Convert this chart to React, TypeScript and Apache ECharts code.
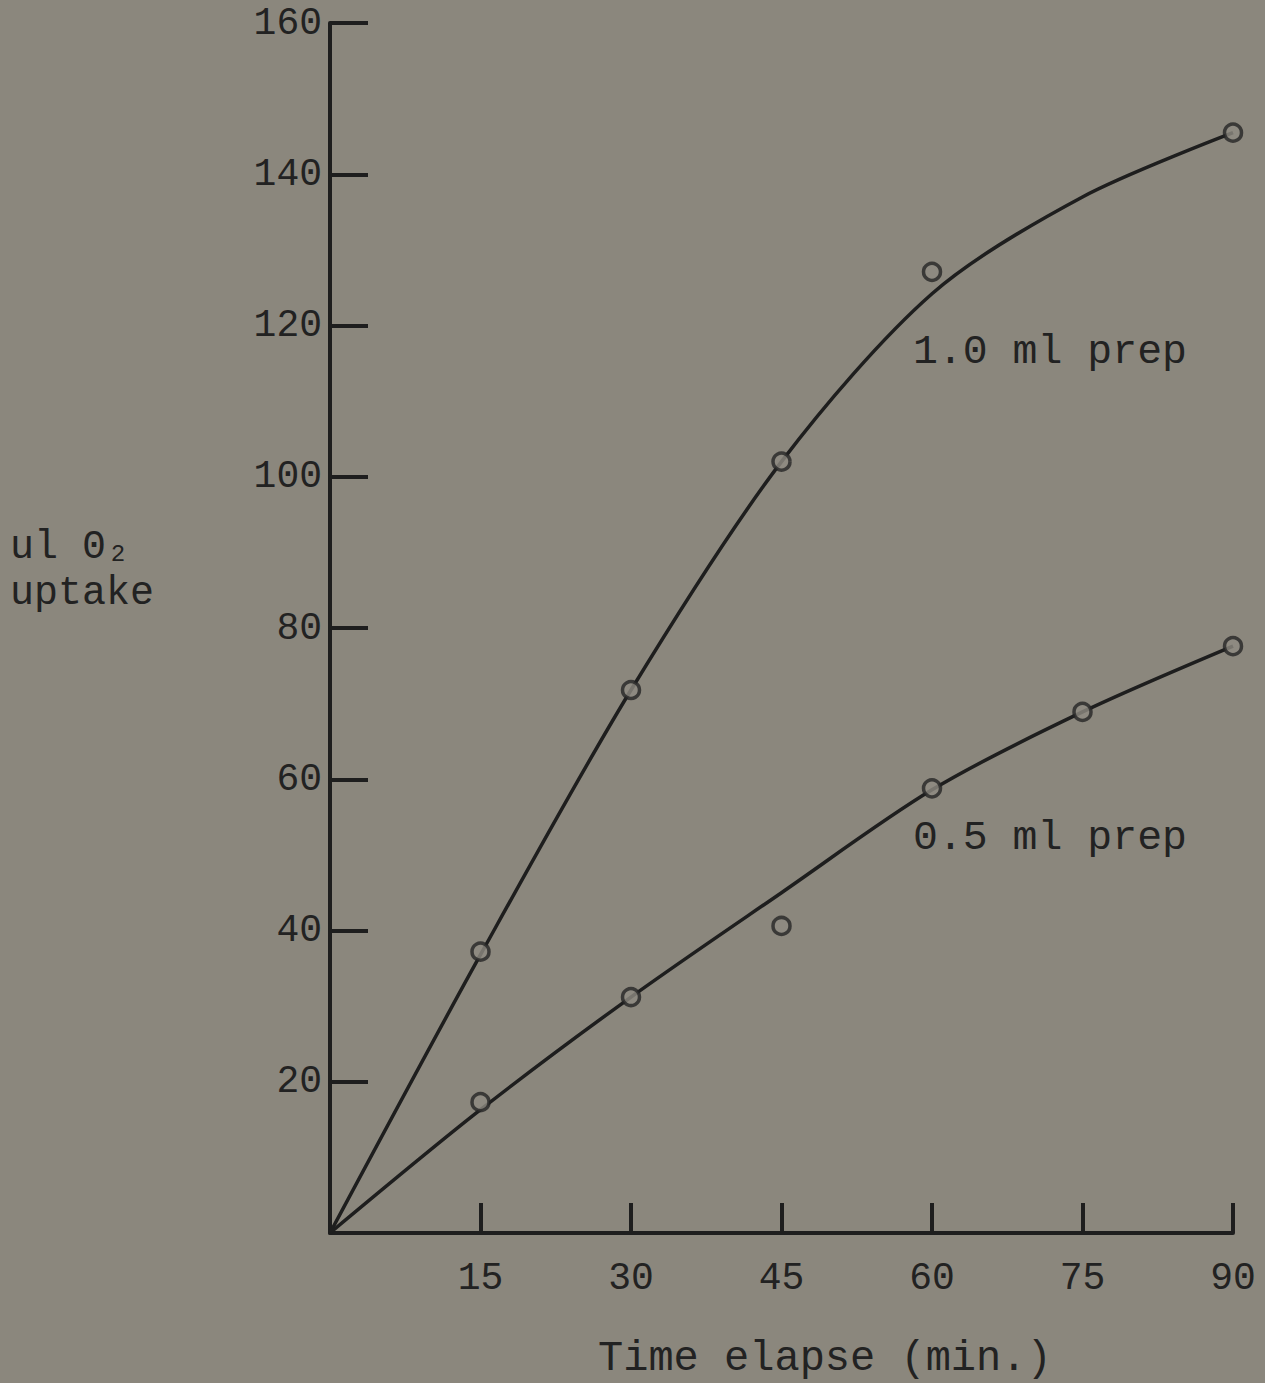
import React, { useEffect, useRef } from "react";
import * as echarts from "echarts";

// Measured data points (x = minutes, y = ul O2 uptake)
const prep10Points: [number, number][] = [
  [0, 0], [15, 37.2], [30, 71.8], [45, 102.0], [60, 127.1], [90, 145.5],
];
const prep05Points: [number, number][] = [
  [0, 0], [15, 17.3], [30, 31.2], [45, 40.6], [60, 58.8], [75, 68.9], [90, 77.6],
];
// Hand-drawn fitted curves
const prep10Curve: [number, number][] = [
  [0, 0], [15, 36.8], [30, 71.8], [45, 102.0], [60, 124.2], [75, 137.0], [90, 145.5],
];
const prep05Curve: [number, number][] = [
  [0, 0], [15, 16.3], [30, 31.2], [45, 45.0], [60, 58.6], [75, 68.9], [90, 77.6],
];
const xTicks = [15, 30, 45, 60, 75, 90];
const yTicks = [20, 40, 60, 80, 100, 120, 140, 160];

const INK = "#1e1e1e";
const BG = "#8b877d";
const FONT = "'Liberation Mono', 'DejaVu Sans Mono', monospace";

export default function App() {
  const ref = useRef<HTMLDivElement>(null);
  useEffect(() => {
    if (!ref.current) return;
    const chart = echarts.init(ref.current, undefined, { renderer: "svg" });
    const lineStyle = { color: INK, width: 3.5 };
    const pointStyle = { color: "#8f8b82", borderColor: "#262626", borderWidth: 3.5 };
    chart.setOption({
      animation: false,
      backgroundColor: BG,
      grid: { left: 330, right: 32, top: 23, bottom: 150 },
      xAxis: {
        type: "value",
        min: 0,
        max: 90,
        interval: 15,
        axisLine: { show: true, lineStyle: { color: INK, width: 4 } },
        axisTick: { show: true, inside: true, length: 30, lineStyle: { color: INK, width: 4 } },
        axisLabel: {
          margin: 26,
          color: "#222",
          fontFamily: FONT,
          fontSize: 38,
          formatter: (v: number) => (xTicks.includes(v) ? String(v) : ""),
        },
        splitLine: { show: false },
      },
      yAxis: {
        type: "value",
        min: 0,
        max: 160,
        interval: 20,
        axisLine: { show: true, lineStyle: { color: INK, width: 4 } },
        axisTick: { show: true, inside: true, length: 38, lineStyle: { color: INK, width: 4 } },
        axisLabel: {
          margin: 8,
          color: "#222",
          fontFamily: FONT,
          fontSize: 38,
          formatter: (v: number) => (yTicks.includes(v) ? String(v) : ""),
        },
        splitLine: { show: false },
      },
      series: [
        {
          type: "line",
          data: prep10Curve,
          smooth: 0.3,
          showSymbol: false,
          lineStyle,
          z: 2,
        },
        {
          type: "line",
          data: prep05Curve,
          smooth: 0.3,
          showSymbol: false,
          lineStyle,
          z: 2,
        },
        {
          type: "scatter",
          data: prep10Points.slice(1),
          symbolSize: 17,
          itemStyle: pointStyle,
          z: 3,
        },
        {
          type: "scatter",
          data: prep05Points.slice(1),
          symbolSize: 17,
          itemStyle: pointStyle,
          z: 3,
        },
      ],
      graphic: [
        {
          type: "text",
          left: 913,
          top: 330,
          style: { text: "1.0 ml prep", font: `41.5px ${FONT}`, fill: "#222" },
        },
        {
          type: "text",
          left: 913,
          top: 816,
          style: { text: "0.5 ml prep", font: `41.5px ${FONT}`, fill: "#222" },
        },
        {
          type: "text",
          left: 598,
          top: 1338,
          style: { text: "Time elapse (min.)", font: `42px ${FONT}`, fill: "#222" },
        },
        {
          type: "text",
          left: 10,
          top: 524,
          style: {
            text: "ul 0₂\nuptake",
            font: `40px ${FONT}`,
            lineHeight: 46,
            fill: "#222",
          },
        },
      ],
    });
    return () => chart.dispose();
  }, []);
  return (
    <div
      ref={ref}
      style={{ position: "absolute", left: 0, top: 0, width: 1265, height: 1383 }}
    />
  );
}
